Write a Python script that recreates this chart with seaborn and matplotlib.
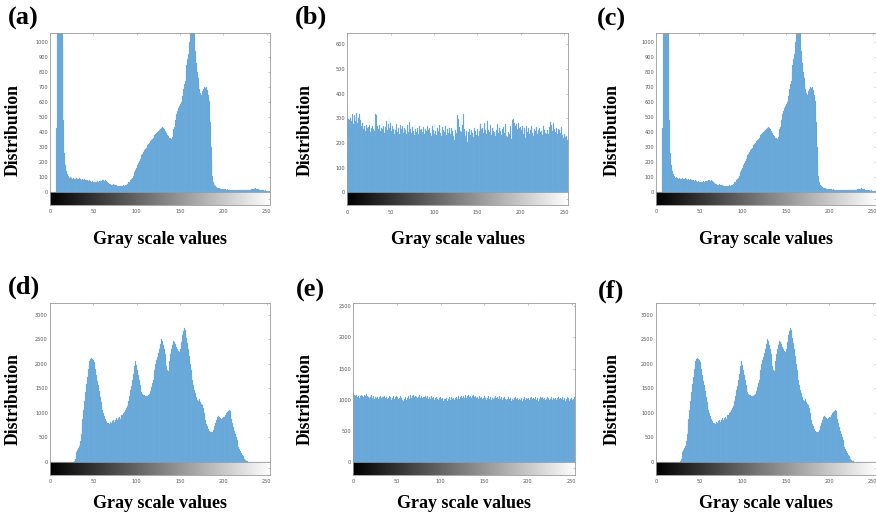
import numpy as np
import pandas as pd
import matplotlib
matplotlib.use("Agg")
import matplotlib.pyplot as plt
import seaborn as sns

# ---------------- data ----------------
levels = np.arange(256)

# (a) / (c) original image histogram (values above ~1060 are clipped in the chart)
hist_a = [
    0, 0, 0, 0, 0, 0, 0, 0, 430, 2600, 4100, 4800, 4300, 3500, 2200, 970,
    480, 260, 180, 140, 125, 112, 105, 98, 102, 95, 90, 97, 88, 92, 99, 94,
    90, 86, 93, 88, 84, 91, 87, 82, 89, 85, 80, 83, 78, 76, 81, 74,
    72, 75, 69, 71, 68, 66, 70, 73, 67, 74, 78, 76, 81, 79, 83, 77,
    80, 75, 72, 68, 64, 58, 55, 52, 50, 53, 48, 46, 50, 47, 45, 43,
    44, 42, 46, 41, 43, 47, 45, 50, 52, 56, 60, 66, 72, 80, 88, 98,
    110, 122, 135, 150, 165, 180, 195, 210, 222, 235, 248, 258, 268, 280, 290, 298,
    305, 315, 322, 332, 340, 348, 355, 362, 372, 380, 388, 396, 402, 410, 415, 418,
    420, 430, 435, 428, 420, 410, 400, 393, 385, 375, 365, 360, 358, 370, 395, 420,
    435, 480, 525, 545, 560, 570, 575, 590, 602, 640, 690, 720, 745, 800, 850, 890,
    925, 1000, 1080, 1200, 1350, 1300, 1180, 1060, 940, 860, 800, 760, 725, 690, 660, 650,
    675, 690, 700, 670, 695, 705, 680, 650, 610, 470, 300, 190, 110, 70, 52, 42,
    36, 32, 30, 28, 26, 25, 24, 22, 21, 20, 19, 20, 18, 19, 18, 17,
    18, 17, 16, 17, 18, 16, 17, 15, 16, 17, 16, 15, 16, 17, 15, 16,
    15, 16, 17, 15, 16, 18, 17, 16, 18, 19, 21, 22, 24, 26, 25, 23,
    22, 20, 18, 16, 15, 14, 13, 14, 12, 13, 12, 11, 12, 10, 11, 10,
]

# (b) equalized histogram
hist_b = [
    305, 298, 310, 292, 300, 288, 318, 276, 312, 290, 305, 320, 282, 300, 316, 295,
    270, 262, 281, 255, 268, 247, 272, 259, 266, 251, 275, 245, 262, 270, 256, 249,
    318, 296, 312, 268, 258, 274, 249, 262, 281, 255, 270, 241, 265, 288, 252, 276,
    300, 262, 281, 247, 270, 258, 236, 266, 252, 279, 244, 262, 236, 271, 255, 249,
    268, 240, 262, 254, 238, 272, 251, 246, 287, 258, 241, 266, 250, 232, 273, 256,
    245, 262, 238, 270, 252, 229, 258, 244, 266, 235, 255, 248, 268, 239, 252, 262,
    242, 230, 268, 254, 238, 276, 249, 233, 262, 247, 271, 240, 256, 228, 265, 251,
    246, 268, 232, 255, 274, 240, 259, 235, 262, 248, 228, 266, 213, 252, 240, 312,
    296, 266, 250, 308, 244, 272, 316, 256, 228, 247, 262, 205, 244, 256, 231, 252,
    241, 226, 238, 262, 249, 234, 258, 230, 247, 270, 278, 255, 262, 240, 282, 251,
    236, 262, 288, 252, 245, 271, 234, 259, 248, 266, 244, 228, 252, 279, 240, 262,
    285, 248, 232, 258, 266, 240, 276, 230, 252, 226, 245, 238, 268, 218, 292, 300,
    296, 280, 270, 276, 258, 283, 262, 242, 265, 254, 270, 238, 260, 222, 252, 268,
    245, 260, 235, 252, 270, 241, 262, 228, 256, 247, 266, 238, 252, 228, 260, 244,
    248, 231, 268, 252, 240, 260, 236, 254, 238, 264, 285, 272, 250, 262, 280, 258,
    244, 262, 236, 258, 228, 251, 240, 266, 232, 222, 238, 224, 218, 230, 212, 205,
]

# (d) / (f) second image histogram
hist_d = [
    0, 0, 0, 0, 0, 0, 0, 0, 0, 0, 0, 0, 0, 0, 0, 0,
    0, 0, 0, 0, 0, 0, 0, 0, 0, 0, 0, 0, 20, 60, 120, 190,
    240, 280, 320, 420, 560, 720, 880, 1060, 1250, 1420, 1580, 1740, 1900, 1980, 2060, 2090,
    2110, 2100, 2080, 2040, 2000, 1900, 1780, 1650, 1560, 1440, 1330, 1230, 1140, 1060, 990, 930,
    880, 840, 800, 780, 790, 770, 810, 790, 840, 850, 820, 870, 860, 890, 850, 900,
    920, 880, 930, 960, 950, 1000, 1020, 1060, 1100, 1130, 1160, 1240, 1350, 1460, 1550, 1680,
    1800, 1900, 1960, 2050, 1980, 1870, 1780, 1680, 1560, 1480, 1420, 1380, 1360, 1370, 1350, 1340,
    1380, 1350, 1360, 1380, 1450, 1520, 1600, 1680, 1780, 1880, 1990, 2080, 2150, 2230, 2300, 2350,
    2400, 2510, 2460, 2380, 2300, 2200, 2080, 1960, 1880, 1850, 2050, 2200, 2300, 2380, 2420, 2460,
    2440, 2400, 2350, 2300, 2270, 2250, 2240, 2300, 2450, 2600, 2680, 2730, 2700, 2620, 2520, 2420,
    2300, 2160, 2000, 1880, 1760, 1660, 1560, 1470, 1400, 1330, 1270, 1250, 1300, 1280, 1220, 1180,
    1160, 1100, 1000, 920, 850, 780, 720, 660, 620, 600, 610, 620, 615, 650, 720, 800,
    860, 920, 950, 940, 910, 890, 880, 900, 920, 910, 930, 960, 990, 1020, 1040, 1055,
    1030, 980, 880, 790, 700, 620, 560, 510, 440, 370, 310, 260, 210, 170, 140, 110,
    80, 55, 35, 20, 10, 0, 0, 0, 0, 0, 0, 0, 0, 0, 0, 0,
    0, 0, 0, 0, 0, 0, 0, 0, 0, 0, 0, 0, 0, 0, 0, 0,
]

# (e) equalized histogram
hist_e = [
    1100, 1072, 1085, 1050, 1068, 1041, 1060, 1032, 1055, 1078, 1046, 1062, 1038, 1070, 1052, 1090,
    1058, 1035, 1062, 1020, 1048, 1066, 1030, 1052, 1015, 1040, 1060, 1022, 1045, 1010, 1038, 1055,
    1025, 1048, 1012, 1036, 1058, 1020, 1044, 1005, 1030, 1052, 1018, 1040, 998, 1026, 1050, 1015,
    1036, 1060, 1022, 1044, 1008, 1032, 1055, 1018, 990, 1025, 975, 1010, 1035, 1000, 1028, 1050,
    1015, 1040, 1068, 1030, 1055, 1078, 1042, 1062, 1035, 1058, 1025, 1048, 1070, 1032, 1055, 1020,
    1045, 1010, 1038, 1062, 1025, 1050, 1016, 1040, 1005, 1030, 1055, 1018, 1042, 1000, 1026, 1048,
    1012, 1035, 995, 1022, 1046, 1008, 1030, 985, 1015, 1040, 1002, 1026, 970, 1010, 1034, 998,
    1020, 1044, 1006, 1030, 990, 1018, 1042, 1005, 1028, 1055, 1015, 1040, 1062, 1025, 1050, 1020,
    1045, 1068, 1030, 1056, 1080, 1042, 1065, 1030, 1088, 1050, 1072, 1036, 1060, 1025, 1048, 1012,
    1038, 1060, 1022, 1046, 1008, 1032, 1055, 1018, 1042, 1000, 1026, 1050, 1012, 1036, 995, 1020,
    1044, 1006, 1030, 1058, 1018, 1040, 1002, 1028, 1050, 1012, 1035, 995, 1020, 1045, 1008, 1032,
    990, 1016, 1040, 1002, 1026, 980, 1010, 1034, 996, 1020, 1045, 1006, 1030, 990, 1015, 1040,
    1000, 1025, 985, 1012, 1036, 998, 1022, 975, 1008, 1032, 995, 1018, 1042, 1004, 1028, 990,
    1016, 1040, 1000, 1025, 985, 1010, 1035, 998, 1020, 1045, 1008, 1030, 992, 1016, 1040, 1002,
    1026, 988, 1012, 1036, 998, 1022, 980, 1008, 1032, 995, 1018, 1042, 1004, 1028, 990, 1015,
    1038, 1000, 1024, 985, 1010, 1034, 996, 1020, 978, 1005, 1030, 992, 1016, 1040, 1002, 985,
]

panel_letters = ["(a)", "(b)", "(c)", "(d)", "(e)", "(f)"]
x_ticks = [0, 50, 100, 150, 200, 250]
xlabel_text = "Gray scale values"
ylabel_text = "Distribution"

# ---------------- styling ----------------
sns.set_style("white")
plt.rcParams["font.family"] = ["DejaVu Sans"]

W, H = 876, 519
BLUE = "#5ea2d7"
EDGE = "#86bbe4"
FRAME = "#9a9a9a"
TICKC = "#555555"
SERIF = ["Liberation Serif", "DejaVu Serif"]

fig = plt.figure(figsize=(W / 100, H / 100), dpi=100)


def frac(x0, y0, x1, y1):
    return [x0 / W, 1 - y1 / H, (x1 - x0) / W, (y1 - y0) / H]


def panel(left, right, top, zero, bot, counts, ytop, ystep, letter, letter_xy,
          dist_x, dist_y, xlab_y):
    ax = fig.add_axes(frac(left, top, right, zero))
    df = pd.DataFrame({"level": levels, "count": np.asarray(counts, dtype=float)})
    sns.histplot(data=df, x="level", weights="count",
                 bins=256, binrange=(-0.5, 255.5), color=BLUE, edgecolor=EDGE,
                 linewidth=0.15, alpha=1, ax=ax)
    ax.set_xlim(0, 254)
    ax.set_ylim(0, ytop)
    ax.set_xlabel("")
    ax.set_ylabel("")
    ax.set_xticks(x_ticks)
    yt = list(range(0, int(ytop) + 1, ystep))
    ax.set_yticks(yt)
    ax.set_yticklabels([str(v) for v in yt])
    ax.tick_params(axis="both", direction="in", length=1.6, width=0.4,
                   color=FRAME, labelsize=3.6, labelcolor=TICKC,
                   top=True, right=True, labelbottom=False, pad=1.5)
    for s in ax.spines.values():
        s.set_color(FRAME)
        s.set_linewidth(0.6)

    cax = fig.add_axes(frac(left, zero, right, bot))
    cax.imshow(levels[None, :], cmap="gray", vmin=0, vmax=255, aspect="auto",
               extent=(-0.5, 255.5, 0, 1), interpolation="bilinear")
    cax.set_xlim(0, 254)
    cax.set_ylim(0, 1)
    cax.set_xticks(x_ticks)
    cax.set_xticklabels([str(v) for v in x_ticks])
    cax.set_yticks([0.5])
    cax.set_yticklabels([])
    cax.tick_params(axis="x", direction="in", length=1.6, width=0.4,
                    color=FRAME, labelsize=3.6, labelcolor=TICKC, pad=3)
    cax.tick_params(axis="y", direction="in", length=1.6, width=0.4,
                    color=FRAME, left=False, right=True)
    for s in cax.spines.values():
        s.set_color(FRAME)
        s.set_linewidth(0.6)

    fig.text(letter_xy[0] / W, 1 - letter_xy[1] / H, letter, family=SERIF,
             fontweight="bold", fontsize=19, ha="center", va="center",
             color="black")
    fig.text(dist_x / W, 1 - dist_y / H, ylabel_text, family=SERIF,
             fontweight="bold", fontsize=12.7, rotation=90,
             ha="center", va="center", color="black")
    fig.text((left + right) / 2 / W, 1 - xlab_y / H, xlabel_text, family=SERIF,
             fontweight="bold", fontsize=13, ha="center", va="center",
             color="black")


# top row
panel(50, 270, 33.3, 192.3, 205, hist_a, 1060, 100, panel_letters[0], (23, 18), 13, 130, 239)
panel(347.3, 567.7, 33.3, 192.3, 205.5, hist_b, 645, 100, panel_letters[1], (311, 17), 305, 130, 239)
panel(656, 876, 33.3, 192.3, 205, hist_a, 1060, 100, panel_letters[2], (611, 19), 612, 130, 239)
# bottom row
panel(50, 270, 302.7, 461.7, 475, hist_d, 3250, 500, panel_letters[3], (24, 287), 13, 399, 503)
panel(353.3, 575, 302.7, 461.7, 475, hist_e, 2560, 500, panel_letters[4], (310, 290), 305, 399, 503)
panel(656, 876, 302.7, 461.7, 475, hist_d, 3250, 500, panel_letters[5], (611, 291), 612, 399, 503)

fig.savefig("out.png", dpi=100, facecolor="white")
